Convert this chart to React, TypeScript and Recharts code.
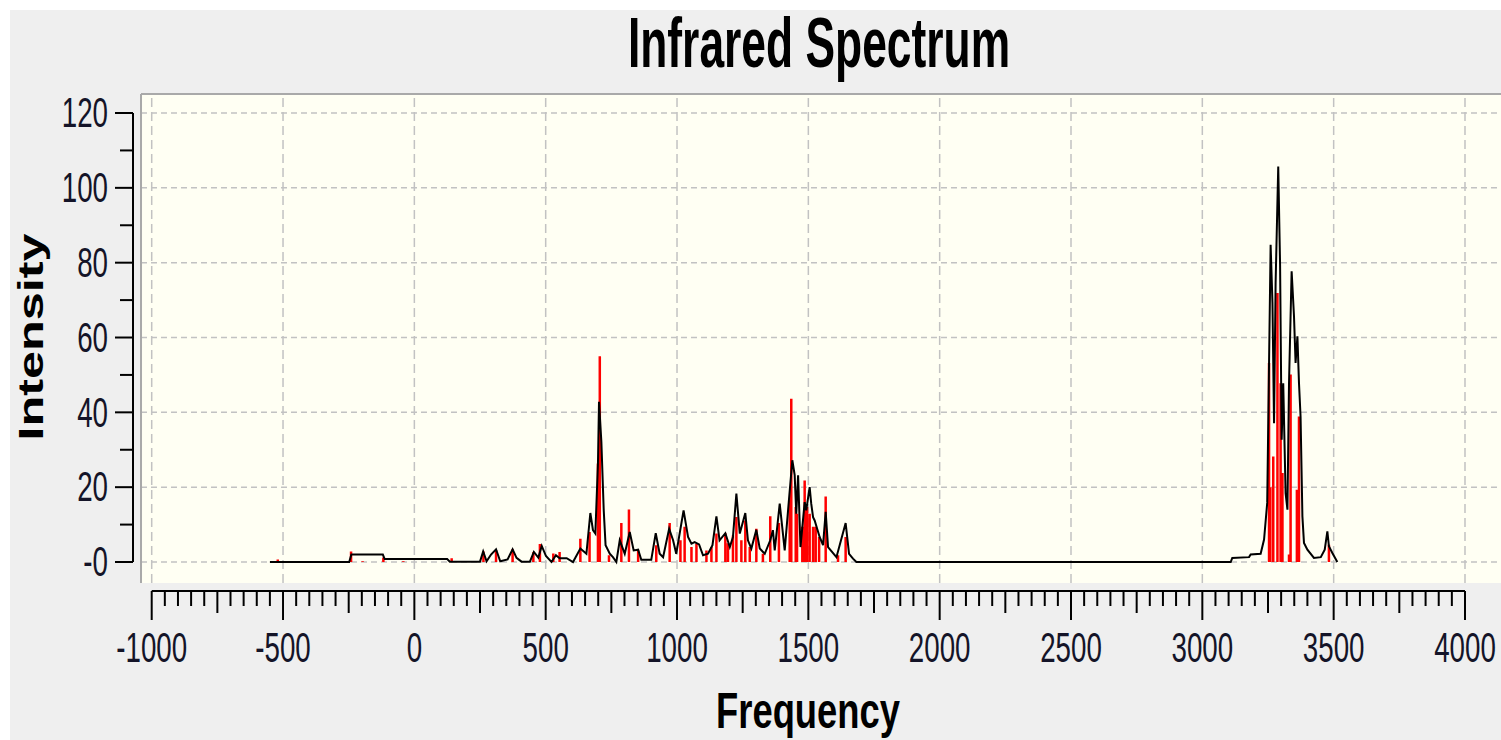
import { ComposedChart, Line, XAxis, YAxis, ReferenceArea, ReferenceLine } from 'recharts';

// broadened spectrum (black trace)
const curveFreq = [
  -550, -248, -240, -120, -113, 125, 135, 250, 262, 275, 292, 311, 327, 355, 374, 389, 408, 440, 455, 472,
  485, 501, 522, 539, 553, 580, 604, 632, 655, 670, 680, 689, 699, 703, 712, 721, 728, 744, 756, 769,
  782, 801, 820, 835, 852, 864, 902, 919, 934, 947, 970, 985, 997, 1025, 1042, 1055, 1067, 1084, 1099, 1118,
  1135, 1150, 1162, 1184, 1201, 1213, 1226, 1239, 1260, 1270, 1283, 1302, 1315, 1334, 1355, 1365, 1372, 1391, 1410, 1426,
  1439, 1448, 1454, 1461, 1470, 1486, 1492, 1505, 1511, 1518, 1524, 1543, 1556, 1566, 1575, 1607, 1642, 1655, 1670, 1683,
  3108, 3114, 3178, 3184, 3222, 3235, 3247, 3254, 3260, 3267, 3273, 3279, 3289, 3296, 3302, 3308, 3317, 3324, 3330, 3340,
  3349, 3355, 3362, 3368, 3374, 3381, 3387, 3400, 3425, 3451, 3466, 3476, 3482, 3495, 3514,
];
const curveInt = [
  0, 0, 2.0, 2.0, 0.8, 0.8, 0.1, 0.1, 2.8, 0.2, 2.0, 3.4, 0.2, 0.7, 3.4, 1.1, 0.1, 0.1, 2.7, 1.2,
  4.3, 1.6, 0, 1.8, 1.0, 1.0, 0, 3.6, 2.2, 13.1, 8.5, 7.6, 26.3, 42.8, 32.1, 13.8, 4.5, 2.2, 1.3, 0,
  5.8, 2.2, 8.0, 3.1, 3.3, 0.6, 0.6, 7.7, 2.2, 1.3, 8.9, 5.8, 2.2, 13.8, 6.7, 4.9, 5.3, 4.7, 1.8, 2.2,
  4.5, 12.2, 5.8, 7.7, 4.0, 6.7, 18.3, 7.6, 13.1, 5.8, 3.6, 8.6, 3.6, 2.2, 5.8, 8.5, 3.1, 15.6, 3.1, 16.5,
  27.2, 23.2, 12.9, 23.2, 4.0, 16.0, 13.8, 20.0, 15.6, 12.0, 11.1, 6.7, 4.5, 13.4, 4.0, 1.3, 10.4, 2.2, 0.9, 0,
  0, 1.1, 1.3, 2.0, 2.2, 6.0, 15.8, 53.2, 84.8, 69.2, 37.1, 74.6, 105.7, 79.5, 32.7, 47.8, 18.4, 14.0, 47.8, 77.7,
  65.7, 53.2, 60.3, 47.8, 38.9, 12.2, 5.1, 3.3, 1.1, 1.3, 3.3, 8.2, 4.2, 2.4, 0,
];

// individual vibrational modes (red sticks)
const stickFreq = [
  -520, -241, -197, -118, -42, 142, 263, 311, 374, 453, 478, 529, 553, 632, 667, 699, 706, 741, 788, 817,
  852, 921, 972, 1013, 1029, 1055, 1074, 1112, 1131, 1150, 1184, 1194, 1213, 1226, 1245, 1260, 1277, 1302, 1327, 1355,
  1388, 1429, 1435, 1452, 1457, 1477, 1486, 1495, 1505, 1518, 1528, 1541, 1566, 1613, 1642,
  3254, 3259, 3270, 3286, 3298, 3305, 3330, 3336, 3360, 3368, 3482,
];
const stickInt = [
  0.7, 2.8, 0.2, 1.2, 0.2, 1.0, 2.8, 3.2, 3.4, 2.6, 4.8, 2.3, 2.7, 6.2, 8.0, 26.3, 55.0, 1.8, 10.4, 14.0,
  3.1, 4.5, 10.4, 5.8, 9.4, 4.0, 4.9, 3.1, 4.0, 7.6, 7.7, 5.0, 7.1, 12.0, 5.8, 11.1, 4.0, 8.9, 2.2, 12.2,
  10.4, 16.5, 43.6, 14.7, 12.9, 9.4, 21.8, 14.7, 12.9, 9.4, 9.4, 6.7, 17.5, 1.8, 6.7,
  53.2, 20.0, 28.2, 71.9, 47.8, 23.8, 2.0, 50.1, 19.3, 38.9, 4.6,
];

const xTicks = Array.from({ length: 101 }, (_, i) => -1000 + i * 50);
const yTicks = [0, 10, 20, 30, 40, 50, 60, 70, 80, 90, 100, 110, 120];
const yTickLabels: Record<number, string> = { 0: '-0', 20: '20', 40: '40', 60: '60', 80: '80', 100: '100', 120: '120' };
const xGrid = [-1000, -500, 0, 500, 1000, 1500, 2000, 2500, 3000, 3500, 4000];
const yGrid = [0, 20, 40, 60, 80, 100, 120];

const X_MIN = -1071.2;
const X_MAX = 4137.1;
const Y_MIN = -7.75;
const Y_MAX = 125.35;
const PLOT_LEFT = -1040.7;
const PLOT_TOP = 125.08;
const PLOT_BOTTOM = -5.61;

const curve = curveFreq.map((f, i) => ({ x: f, y: curveInt[i] }));
const sticks = stickFreq.flatMap((f, i) => [
  { x: f, y: 0 },
  { x: f, y: stickInt[i] },
  { x: f, y: null },
]);

const FONT = 'Liberation Sans, Arial, sans-serif';

function FreqTick(props: any) {
  const { x, y, payload } = props;
  const v = payload.value;
  const major = v % 500 === 0;
  const mid = !major && v % 250 === 0;
  const len = major ? 29 : mid ? 22 : 15;
  return (
    <g>
      <line x1={x} y1={y} x2={x} y2={y + len} stroke="#000" strokeWidth={2} />
      {major && (
        <text
          transform={`translate(${x},${y + 57}) scale(0.66,1)`}
          textAnchor="middle"
          dominantBaseline="central"
          fontSize={42}
          fontFamily={FONT}
          fill="#141428"
        >
          {v}
        </text>
      )}
    </g>
  );
}

function IntensityTick(props: any) {
  const { x, y, payload } = props;
  const v = payload.value;
  const label = yTickLabels[v];
  const len = label ? 18 : 13;
  return (
    <g>
      <line x1={x - len} y1={y} x2={x} y2={y} stroke="#000" strokeWidth={2} />
      {label && (
        <text
          transform={`translate(${x - 25},${y}) scale(0.66,1)`}
          textAnchor="end"
          dominantBaseline="central"
          fontSize={42}
          fontFamily={FONT}
          fill="#141428"
        >
          {label}
        </text>
      )}
    </g>
  );
}

export default function App() {
  return (
    <div style={{ position: 'absolute', left: 10, top: 10, width: 1491, height: 730, background: '#efefef' }}>
      <div style={{ position: 'absolute', left: 0, top: 0 }}>
        <ComposedChart width={1491} height={730} data={curve} margin={{ top: 83, right: 0, bottom: 0, left: 0 }}>
          <XAxis
            dataKey="x"
            type="number"
            domain={[X_MIN, X_MAX]}
            allowDataOverflow
            ticks={xTicks}
            interval={0}
            height={149}
            tickSize={0}
            tickMargin={0}
            axisLine={false}
            tickLine={false}
            tick={<FreqTick />}
          />
          <YAxis
            type="number"
            domain={[Y_MIN, Y_MAX]}
            allowDataOverflow
            ticks={yTicks}
            interval={0}
            width={123}
            tickSize={0}
            tickMargin={0}
            axisLine={false}
            tickLine={false}
            tick={<IntensityTick />}
          />
          <ReferenceArea x1={PLOT_LEFT} x2={X_MAX} y1={PLOT_BOTTOM} y2={Y_MAX} fill="#fffff3" fillOpacity={1} stroke="none" ifOverflow="visible" />
          {yGrid.map((v) => (
            <ReferenceLine key={`h${v}`} segment={[{ x: PLOT_LEFT, y: v }, { x: X_MAX, y: v }]}
              stroke="#c2c2c2" strokeWidth={1.5} strokeDasharray="6 4" ifOverflow="visible" />
          ))}
          {xGrid.map((v) => (
            <ReferenceLine key={`v${v}`} segment={[{ x: v, y: PLOT_BOTTOM }, { x: v, y: PLOT_TOP }]}
              stroke="#c2c2c2" strokeWidth={1.5} strokeDasharray="9 5" ifOverflow="visible" />
          ))}
          <ReferenceLine segment={[{ x: PLOT_LEFT, y: PLOT_BOTTOM }, { x: PLOT_LEFT, y: PLOT_TOP }]}
            stroke="#a9a9a9" strokeWidth={2} ifOverflow="visible" />
          <ReferenceLine segment={[{ x: PLOT_LEFT, y: PLOT_TOP }, { x: X_MAX, y: PLOT_TOP }]}
            stroke="#a9a9a9" strokeWidth={2} ifOverflow="visible" />
          <ReferenceLine segment={[{ x: X_MIN, y: 0 }, { x: X_MIN, y: 120 }]}
            stroke="#000" strokeWidth={2} ifOverflow="visible" />
          <ReferenceLine segment={[{ x: -1000, y: Y_MIN }, { x: 4000, y: Y_MIN }]}
            stroke="#000" strokeWidth={2} ifOverflow="visible" />
          <Line data={sticks} dataKey="y" type="linear" stroke="#ff0000" strokeWidth={2.5}
            dot={false} activeDot={false} connectNulls={false} isAnimationActive={false} />
          <Line data={curve} dataKey="y" type="linear" stroke="#000" strokeWidth={2}
            dot={false} activeDot={false} isAnimationActive={false} />
        </ComposedChart>
      </div>
      {/* titles, in page coordinates */}
      <svg width={1501} height={740} style={{ position: 'absolute', left: -10, top: -10, pointerEvents: 'none' }}>
        <text transform="translate(819,67) scale(0.634,1)" textAnchor="middle" fontSize={70} fontWeight="bold"
          fontFamily={FONT} fill="#000">
          Infrared Spectrum
        </text>
        <text transform="translate(43,337) rotate(-90) scale(1.44,1)" textAnchor="middle" fontSize={35}
          fontWeight="bold" fontFamily={FONT} fill="#000">
          Intensity
        </text>
        <text transform="translate(808,728) scale(0.727,1)" textAnchor="middle" fontSize={50} fontWeight="bold"
          fontFamily={FONT} fill="#000">
          Frequency
        </text>
      </svg>
    </div>
  );
}
